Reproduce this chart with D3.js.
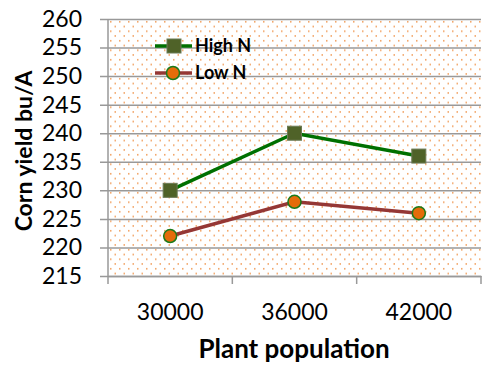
<!DOCTYPE html>
<html>
<head>
<meta charset="utf-8">
<script src="https://cdn.jsdelivr.net/npm/d3@7"></script>
<style>
  body { margin: 0; background: #fff; }
  text { font-family: Lato, "Open Sans", sans-serif; }
</style>
</head>
<body>
<div id="chart"></div>
<script>
// chart data
var populations = ["30000", "36000", "42000"];
var highN = [230, 240, 236];
var lowN = [222, 228, 226];
var yTicks = [215, 220, 225, 230, 235, 240, 245, 250, 255, 260];

var svgWidth = 500, svgHeight = 368;
var margin = { top: 19, right: 19, bottom: 92, left: 108 };
var width = svgWidth - margin.left - margin.right;
var height = svgHeight - margin.top - margin.bottom;

var svg = d3.select("#chart").append("svg")
    .attr("width", svgWidth)
    .attr("height", svgHeight);

// dotted fill of plot area
var defs = svg.append("defs");
var pat = defs.append("pattern")
    .attr("id", "dots")
    .attr("patternUnits", "userSpaceOnUse")
    .attr("x", margin.left).attr("y", margin.top)
    .attr("width", 9).attr("height", 9.5);
pat.append("rect").attr("x", 2).attr("y", 2).attr("width", 1.5).attr("height", 1.5).attr("fill", "#f09a55");
pat.append("rect").attr("x", 6.5).attr("y", 6.75).attr("width", 1.5).attr("height", 1.5).attr("fill", "#f09a55");

var chartGroup = svg.append("g")
    .attr("transform", `translate(${margin.left}, ${margin.top})`);

// scales
var xScale = d3.scaleBand().domain(populations).range([0, width]);
var yScale = d3.scaleLinear().domain([215, 260]).range([height, 0]);

chartGroup.append("rect")
    .attr("width", width).attr("height", height)
    .attr("fill", "url(#dots)")
    .attr("transform", `translate(${-margin.left}, ${-margin.top})`)
    .attr("x", margin.left).attr("y", margin.top);

// y axis with gridlines
var yAxis = chartGroup.append("g")
    .call(d3.axisLeft(yScale).tickValues(yTicks).tickSize(-width - 8).tickPadding(18).tickFormat(d3.format("d")));
yAxis.select(".domain").remove();
yAxis.selectAll(".tick line")
    .attr("x1", -8).attr("x2", width)
    .attr("stroke", "#999").attr("stroke-width", 1.5);
yAxis.selectAll(".tick text")
    .attr("x", -26)
    .attr("font-size", "23px").attr("fill", "#000");

chartGroup.append("line")
    .attr("x1", 0).attr("x2", 0).attr("y1", 0).attr("y2", height)
    .attr("stroke", "#999").attr("stroke-width", 1.5);

// x axis
var xAxis = chartGroup.append("g")
    .attr("transform", `translate(0, ${height})`)
    .call(d3.axisBottom(xScale).tickSize(0).tickPadding(28));
xAxis.select(".domain").attr("stroke", "#999").attr("stroke-width", 1.5);
xAxis.selectAll(".tick text").attr("font-size", "23px").attr("fill", "#000");

// boundary ticks between categories
var bounds = populations.map(d => xScale(d)).concat([width]);
chartGroup.selectAll(".bound")
    .data(bounds)
    .enter()
    .append("line")
    .attr("x1", d => d).attr("x2", d => d)
    .attr("y1", height).attr("y2", height + 8)
    .attr("stroke", "#999").attr("stroke-width", 1.5);

var cx = d => xScale(d) + xScale.bandwidth() / 2;
var line = d3.line().x((d, i) => cx(populations[i])).y(d => yScale(d));

// High N series
chartGroup.append("path")
    .datum(highN)
    .attr("d", line)
    .attr("fill", "none").attr("stroke", "#007000").attr("stroke-width", 3.5);
chartGroup.selectAll(".hi")
    .data(highN)
    .enter()
    .append("rect")
    .attr("x", (d, i) => cx(populations[i]) - 7)
    .attr("y", d => yScale(d) - 7)
    .attr("width", 14).attr("height", 14)
    .attr("fill", "#4f6228").attr("stroke", "#6b7a55").attr("stroke-width", 1);

// Low N series
chartGroup.append("path")
    .datum(lowN)
    .attr("d", line)
    .attr("fill", "none").attr("stroke", "#953735").attr("stroke-width", 3.5);
chartGroup.selectAll(".lo")
    .data(lowN)
    .enter()
    .append("circle")
    .attr("cx", (d, i) => cx(populations[i]))
    .attr("cy", d => yScale(d))
    .attr("r", 6.5)
    .attr("fill", "#e46c0a").attr("stroke", "#1a7a1a").attr("stroke-width", 1.5);

// legend
var legend = svg.append("g");
var items = [
    { name: "High N", color: "#007000", y: 46 },
    { name: "Low N", color: "#953735", y: 73 }
];
items.forEach(function(it, i) {
    legend.append("line")
        .attr("x1", 155).attr("x2", 192).attr("y1", it.y).attr("y2", it.y)
        .attr("stroke", it.color).attr("stroke-width", 3.5);
    if (i === 0) {
        legend.append("rect")
            .attr("x", 167).attr("y", it.y - 7).attr("width", 14).attr("height", 14)
            .attr("fill", "#4f6228").attr("stroke", "#6b7a55");
    } else {
        legend.append("circle")
            .attr("cx", 173).attr("cy", it.y).attr("r", 6.5)
            .attr("fill", "#e46c0a").attr("stroke", "#1a7a1a").attr("stroke-width", 1.5);
    }
    legend.append("text")
        .attr("x", 195).attr("y", it.y + 6)
        .attr("font-size", "18px").attr("font-weight", "bold")
        .text(it.name);
});

// axis titles
svg.append("text")
    .attr("x", 294).attr("y", 358)
    .attr("text-anchor", "middle")
    .attr("font-size", "26px").attr("font-weight", "bold")
    .text("Plant population");

svg.append("text")
    .attr("transform", "translate(32, 151) rotate(-90)")
    .attr("text-anchor", "middle")
    .attr("font-size", "23px").attr("font-weight", "bold")
    .text("Corn yield bu/A");
</script>
</body>
</html>
